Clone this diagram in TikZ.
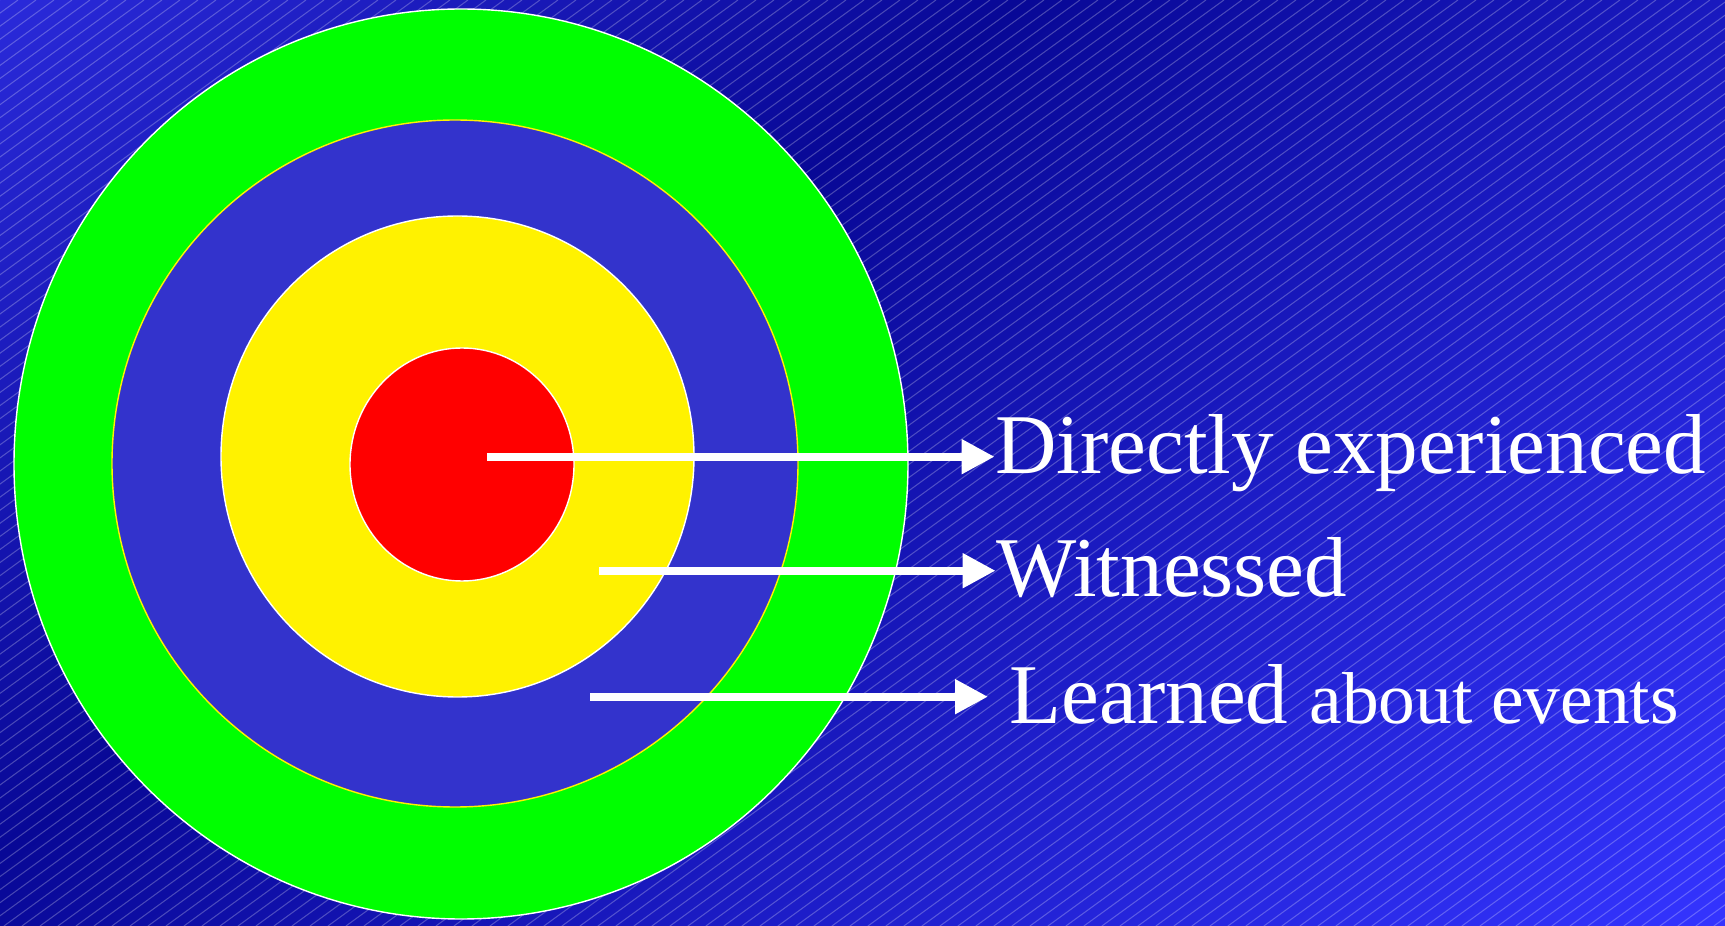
\documentclass[tikz,border=0pt]{standalone}
\usepackage{xcolor}
\usepackage{fontspec}
\setmainfont{Liberation Serif}
\usepackage{tikz}
\usetikzlibrary{arrows.meta,positioning}

\definecolor{bgtl}{RGB}{42,42,218}
\definecolor{bgmid}{RGB}{8,8,150}
\definecolor{bgbr}{RGB}{52,52,255}
\definecolor{ringblue}{RGB}{51,51,204}
\pgfdeclarehorizontalshading{bgshade}{100bp}{color(0bp)=(bgtl); color(25bp)=(bgtl); color(43bp)=(bgmid); color(75bp)=(bgbr); color(100bp)=(bgbr)}

\begin{document}
\begin{tikzpicture}[
    ring/.style={line width=0.4pt},
    lbl/.style={text=white, inner sep=0pt, anchor=base west, font=\fontsize{24.2}{29}\selectfont},
    arr/.style={white, line width=0.08cm, -{Triangle[length=0.33cm, width=0.33cm]}}]
    \useasboundingbox (0,0) rectangle (17.25,9.26);
    % background
    \begin{scope}
        \clip (0,0) rectangle (17.25,9.26);
        \shade[shading=bgshade, shading angle=-50] (8.625,4.63) +(-9.093,-9.093) rectangle +(9.093,9.093);
        \foreach \i in {0,...,170}
            \draw[white, opacity=0.25, line width=0.3pt] (-12.74+0.18*\i,0) -- ++(12.74,9.26);
    \end{scope}

    % target
    \draw[ring, white, fill=green] (4.61,4.62) ellipse [x radius=4.47, y radius=4.55];
    \draw[ring, yellow, fill=ringblue] (4.55,4.625) ellipse [x radius=3.43, y radius=3.435];
    \draw[ring, white, fill=yellow] (4.575,4.695) ellipse [x radius=2.365, y radius=2.405];
    \draw[ring, white, fill=red] (4.62,4.615) ellipse [x radius=1.12, y radius=1.165];

    \node[lbl] (direct) at (9.946,4.52) {Directly experienced};
    \node[lbl] (witness) at (9.956,3.29) {Witnessed};
    \node[lbl] (learn) at (10.09,2.02) {Learned {\fontsize{20.9}{25}\selectfont about events}};

    \coordinate (s1) at (4.87,4.693);
    \coordinate (s2) at (5.99,3.553);
    \coordinate (s3) at (5.90,2.293);

    \draw[arr] (s1) -- (s1 -| direct.west);
    \draw[arr] (s2) -- (s2 -| witness.west);
    \draw[arr, shorten >=0.21cm] (s3) -- (s3 -| learn.west);
\end{tikzpicture}
\end{document}
